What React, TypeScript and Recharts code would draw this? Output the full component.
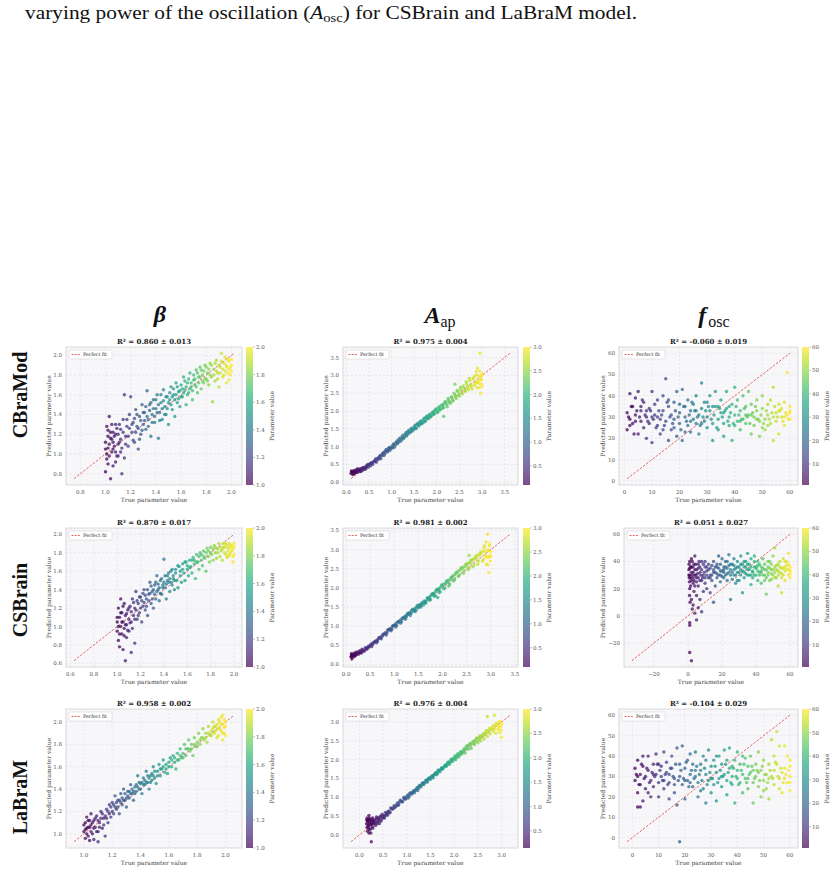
import React from 'react';
import { ScatterChart, Scatter, XAxis, YAxis, CartesianGrid, ReferenceLine } from 'recharts';

type Pt = [number, number];

// rows / columns
const rowNames = ['CBraMod', 'CSBrain', 'LaBraM'];
const r2Text = [
  ['0.860 ± 0.013', '0.975 ± 0.004', '-0.060 ± 0.019'],
  ['0.870 ± 0.017', '0.981 ± 0.002', '0.051 ± 0.027'],
  ['0.958 ± 0.002', '0.976 ± 0.004', '-0.104 ± 0.029'],
];

// tick labels
const betaTicks1 = [0.8, 1.0, 1.2, 1.4, 1.6, 1.8, 2.0];
const betaTicks2 = [0.6, 0.8, 1.0, 1.2, 1.4, 1.6, 1.8, 2.0];
const betaTicks3 = [1.0, 1.2, 1.4, 1.6, 1.8, 2.0];
const apTicks1 = [0, 0.5, 1.0, 1.5, 2.0, 2.5, 3.0, 3.5];
const apTicks3 = [0, 0.5, 1.0, 1.5, 2.0, 2.5, 3.0];
const foscTicks1 = [0, 10, 20, 30, 40, 50, 60];
const foscTicks2 = [-20, 0, 20, 40, 60];
const betaCbarTicks = [1.0, 1.2, 1.4, 1.6, 1.8, 2.0];
const apCbarTicks = [0.5, 1.0, 1.5, 2.0, 2.5, 3.0];
const foscCbarTicks = [10, 20, 30, 40, 50, 60];

// [true, predicted]
const cbramodBeta: Pt[] = [
  [1.00,1.05],[1.01,0.95],[1.02,1.18],[1.03,1.10],[1.01,1.28],[1.04,0.75],[1.00,0.82],[1.05,1.02],[1.06,1.22],[1.02,0.90],
  [1.07,1.08],[1.08,1.30],[1.03,1.38],[1.09,0.98],[1.05,1.15],[1.10,1.20],[1.08,0.92],[1.06,1.05],
  [1.11,1.12],[1.12,1.25],[1.13,0.80],[1.14,1.35],[1.15,1.60],[1.12,1.02],[1.16,1.18],[1.17,1.28],[1.18,1.08],[1.19,1.40],[1.15,0.96],[1.20,1.58],
  [1.21,1.22],[1.22,1.32],[1.23,1.12],[1.24,1.45],[1.25,1.28],[1.26,1.05],[1.27,1.38],[1.28,1.20],[1.29,1.50],[1.30,1.30],
  [1.31,1.42],[1.32,1.25],[1.33,1.64],[1.34,1.35],[1.35,1.50],[1.36,1.18],[1.37,1.40],[1.38,1.55],[1.39,1.32],[1.40,1.46],
  [1.41,1.60],[1.42,1.16],[1.43,1.42],[1.44,1.52],[1.45,1.35],[1.46,1.65],[1.47,1.48],[1.48,1.40],[1.49,1.58],[1.50,1.30],
  [1.51,1.55],[1.52,1.68],[1.53,1.45],[1.54,1.60],[1.55,1.38],[1.56,1.72],[1.57,1.52],[1.58,1.63],[1.59,1.48],[1.60,1.70],
  [1.61,1.58],[1.62,1.78],[1.63,1.65],[1.64,1.50],[1.65,1.72],[1.66,1.62],[1.67,1.82],[1.68,1.68],[1.69,1.55],[1.70,1.75],
  [1.71,1.70],[1.72,1.85],[1.73,1.62],[1.74,1.78],[1.75,1.88],[1.76,1.66],[1.77,1.80],[1.78,1.72],[1.79,1.90],[1.80,1.76],
  [1.81,1.82],[1.82,1.70],[1.83,1.92],[1.84,1.78],[1.85,1.53],[1.86,1.86],[1.87,1.74],[1.88,1.95],[1.89,1.82],[1.90,1.68],
  [1.91,1.88],[1.92,2.02],[1.93,1.78],[1.94,1.92],[1.95,1.84],[1.96,1.72],[1.97,1.96],[1.98,1.86],[1.99,1.80],[2.00,1.90],[1.98,1.75],[1.96,1.88],
  [1.00,1.12],[1.01,1.00],[1.02,1.24],[1.03,0.98],[1.04,1.16],[1.05,1.30],[1.06,0.88],[1.07,1.18],[1.08,1.02],[1.09,1.26],
  [1.10,1.10],[1.02,1.06],[1.04,1.22],[1.06,1.12],[1.08,1.20],[1.10,0.98],
  [1.11,1.30],[1.12,1.15],[1.13,1.06],[1.14,1.22],[1.16,1.10],[1.17,1.35],[1.18,1.18],[1.19,1.26],[1.21,1.30],[1.22,1.14],
  [1.23,1.36],[1.24,1.22],[1.25,1.40],[1.26,1.26],[1.27,1.15],[1.28,1.34],[1.29,1.24],[1.30,1.42],
  [1.31,1.34],[1.32,1.48],[1.33,1.38],[1.34,1.28],[1.35,1.44],[1.36,1.52],[1.37,1.32],[1.38,1.46],[1.39,1.38],[1.40,1.55],
  [1.41,1.42],[1.42,1.50],[1.43,1.34],[1.44,1.60],[1.45,1.46],[1.46,1.54],[1.47,1.40],[1.48,1.58],[1.49,1.46],[1.50,1.52],
  [1.51,1.62],[1.52,1.50],[1.53,1.58],[1.54,1.66],[1.55,1.55],[1.56,1.60],[1.57,1.68],[1.58,1.56],[1.59,1.64],[1.60,1.58],
  [1.61,1.66],[1.62,1.62],[1.63,1.74],[1.64,1.68],[1.65,1.60],[1.66,1.76],[1.67,1.66],[1.68,1.72],[1.69,1.64],[1.70,1.80],
  [1.71,1.76],[1.72,1.68],[1.73,1.82],[1.74,1.72],[1.75,1.78],[1.76,1.85],[1.77,1.74],[1.78,1.84],[1.79,1.76],[1.80,1.88],
  [1.81,1.74],[1.82,1.86],[1.83,1.80],[1.84,1.90],[1.86,1.80],[1.87,1.92],[1.88,1.84],[1.89,1.76],[1.90,1.90],[1.91,1.82],
  [1.92,1.94],[1.93,1.86],[1.94,1.80],[1.95,1.98],[1.96,1.90],[1.97,1.82],[1.98,1.94],[1.99,1.88],[2.00,1.84],[2.00,1.96],
];

const cbramodAp: Pt[] = [
  [0.10,0.25],[0.12,0.30],[0.14,0.22],[0.15,0.28],[0.17,0.33],[0.19,0.26],[0.20,0.30],[0.22,0.35],[0.24,0.28],[0.25,0.38],
  [0.27,0.31],[0.30,0.36],[0.32,0.30],[0.35,0.40],[0.38,0.35],[0.40,0.42],[0.43,0.38],[0.45,0.47],[0.48,0.42],[0.50,0.50],
  [0.53,0.46],[0.55,0.55],[0.58,0.50],[0.60,0.58],[0.63,0.62],[0.66,0.56],[0.70,0.68],[0.73,0.72],[0.76,0.66],[0.80,0.80],
  [0.83,0.75],[0.86,0.88],[0.90,0.85],[0.93,0.95],[0.96,0.90],[1.00,1.00],[1.03,1.05],[1.06,0.98],[1.10,1.12],[1.13,1.08],
  [1.16,1.20],[1.20,1.15],[1.23,1.28],[1.26,1.22],[1.30,1.35],[1.33,1.30],[1.36,1.42],[1.40,1.38],[1.43,1.50],[1.46,1.44],
  [1.50,1.55],[1.53,1.50],[1.56,1.62],[1.60,1.58],[1.63,1.70],[1.66,1.64],[1.70,1.75],[1.73,1.70],[1.76,1.82],[1.80,1.78],
  [1.83,1.88],[1.86,1.84],[1.90,1.95],[1.93,1.90],[1.96,2.02],[2.00,1.98],[2.03,2.08],[2.06,2.02],[2.10,2.15],[2.13,2.08],
  [2.16,2.20],[2.15,1.85],[2.20,2.25],[2.23,2.12],[2.26,2.30],[2.30,2.22],[2.33,2.38],[2.36,2.30],[2.40,2.45],[2.43,2.35],
  [2.46,2.55],[2.50,2.42],[2.53,2.60],[2.56,2.48],[2.60,2.65],[2.63,2.55],[2.66,2.75],[2.70,2.60],[2.73,2.85],[2.76,2.68],
  [2.80,2.90],[2.83,2.72],[2.86,3.00],[2.88,2.80],[2.90,3.20],[2.92,2.85],[2.94,2.65],[2.95,3.62],[2.96,2.95],[2.98,2.75],
  [3.00,3.05],[2.97,2.50],[2.99,2.88],[2.40,2.75],
  [0.11,0.32],[0.13,0.27],[0.16,0.24],[0.18,0.31],[0.21,0.27],[0.23,0.33],[0.26,0.34],[0.29,0.30],[0.31,0.38],[0.34,0.33],
  [0.37,0.41],[0.41,0.37],[0.44,0.44],[0.47,0.50],[0.52,0.52],[0.57,0.54],[0.62,0.58],[0.65,0.66],[0.68,0.62],[0.72,0.66],
  [0.75,0.76],[0.78,0.74],[0.82,0.84],[0.85,0.80],[0.88,0.92],[0.92,0.88],[0.95,0.98],[0.98,0.95],[1.02,0.96],[1.05,1.08],
  [1.08,1.04],[1.12,1.16],[1.15,1.12],[1.18,1.24],[1.22,1.20],[1.25,1.32],[1.28,1.26],[1.32,1.40],[1.35,1.34],[1.38,1.46],
  [1.42,1.42],[1.45,1.52],[1.48,1.48],[1.52,1.60],[1.55,1.52],[1.58,1.66],[1.62,1.62],[1.65,1.72],[1.68,1.66],[1.72,1.80],
  [1.75,1.72],[1.78,1.86],[1.82,1.80],[1.85,1.92],[1.88,1.86],[1.92,1.98],[1.95,1.92],[1.98,2.06],[2.02,1.96],[2.05,2.12],
  [2.08,2.05],[2.12,2.18],[2.15,2.10],[2.18,2.26],[2.22,2.18],[2.25,2.35],[2.28,2.24],[2.32,2.40],[2.35,2.28],[2.38,2.50],
  [2.42,2.40],[2.45,2.58],[2.48,2.45],[2.52,2.66],[2.55,2.52],[2.58,2.70],[2.62,2.58],[2.65,2.82],[2.68,2.66],[2.72,2.92],
  [2.75,2.74],[2.78,2.62],[2.82,2.95],[2.85,2.78],[2.87,3.10],[2.89,2.66],[2.91,3.00],[2.93,2.78],[2.95,3.12],[2.97,2.88],
  [2.99,3.00],[3.00,2.70],
];

const cbramodFosc: Pt[] = [
  [1,32],[1,24],[2,41],[2,29],[3,35],[3,27],[4,31],[4,39],[5,42],[5,22],[6,33],[6,28],[7,25],[7,37],[8,30],[8,20],
  [9,34],[9,27],[10,42],[10,18],[11,31],[11,36],[12,26],[12,38],[13,29],[13,22],[14,33],[14,40],[15,48],[15,28],
  [16,19],[16,35],[17,31],[17,24],[18,37],[18,29],[19,42],[19,21],[20,32],[20,27],[21,43],[21,19],[22,30],[22,35],
  [23,26],[23,38],[24,33],[24,23],[25,29],[25,36],[26,40],[26,27],[27,31],[27,22],[28,46],[28,34],[29,28],[29,37],
  [30,30],[30,25],[31,33],[31,40],[32,27],[32,19],[33,35],[33,42],[34,29],[34,24],[35,32],[35,38],[36,27],[36,21],
  [37,34],[37,42],[38,30],[38,26],[39,36],[39,19],[40,31],[40,44],[41,28],[41,38],[42,33],[42,24],[43,29],[43,40],
  [44,35],[44,27],[45,31],[45,42],[46,22],[46,36],[47,30],[47,26],[48,38],[48,33],[49,28],[49,21],[50,34],[50,40],
  [51,29],[51,24],[52,36],[52,31],[53,27],[53,38],[54,44],[54,19],[55,32],[55,28],[56,36],[56,22],[57,30],[57,34],
  [58,26],[58,37],[59,51],[59,31],[60,29],[60,35],
  [1.5,30],[2.5,35],[3.5,22],[4.5,33],[5.5,30],[6.5,38],[7.5,31],[8.5,28],[9.5,33],[10.5,29],[11.5,25],[12.5,33],
  [13.5,31],[14.5,26],[15.5,37],[16.5,30],[17.5,27],[18.5,33],[19.5,30],[20.5,24],[21.5,35],[22.5,28],[23.5,31],[24.5,37],
  [25.5,33],[26.5,30],[27.5,26],[28.5,30],[29.5,33],[30.5,35],[31.5,29],[32.5,31],[33.5,25],[34.5,34],[35.5,30],[36.5,33],
  [37.5,28],[38.5,32],[39.5,27],[40.5,35],[41.5,31],[42.5,29],[43.5,34],[44.5,30],[45.5,27],[46.5,32],[47.5,35],[48.5,29],
  [49.5,31],[50.5,27],[51.5,33],[52.5,29],[53.5,32],[54.5,35],[55.5,30],[56.5,33],[57.5,28],[58.5,32],[59.5,29],[60,32],
  [2,26],[4,28],[6,35],[8,33],[10,30],[12,30],[14,24],[16,38],[18,25],[20,36],[22,23],[24,28],[26,33],[28,27],[30,37],
  [32,35],[34,35],[36,32],[38,35],[40,26],[42,28],[44,31],[46,31],[48,29],[50,25],[52,26],[54,30],[56,33],[58,30],[60,33],
];

const csbrainBeta: Pt[] = [
  [1.00,0.95],[1.00,1.05],[1.01,0.85],[1.01,1.20],[1.02,1.10],[1.02,0.78],[1.03,1.00],[1.03,1.30],[1.04,0.92],[1.04,1.15],
  [1.05,0.75],[1.05,1.05],[1.06,1.25],[1.06,0.98],[1.07,0.63],[1.07,1.12],[1.08,1.02],[1.08,0.88],[1.09,1.18],[1.10,1.08],
  [1.10,0.95],[1.11,1.22],[1.12,0.72],[1.12,1.05],[1.13,1.30],[1.14,1.12],[1.15,0.82],[1.15,1.20],[1.16,1.38],[1.17,1.08],
  [1.18,1.25],[1.19,1.15],[1.20,1.32],[1.21,1.05],[1.22,1.22],[1.23,1.40],[1.24,1.18],[1.25,1.30],[1.26,1.12],[1.27,1.35],
  [1.28,1.48],[1.29,1.25],[1.30,1.38],[1.31,1.20],[1.32,1.45],[1.33,1.30],[1.34,1.55],[1.35,1.40],[1.36,1.28],[1.37,1.50],
  [1.38,1.35],[1.39,1.45],[1.40,1.73],[1.41,1.42],[1.42,1.30],[1.43,1.55],[1.44,1.48],[1.45,1.38],[1.46,1.60],[1.47,1.45],
  [1.48,1.52],[1.49,1.40],[1.50,1.62],[1.51,1.50],[1.52,1.42],[1.53,1.65],[1.54,1.55],[1.55,1.48],[1.56,1.68],[1.57,1.58],
  [1.58,1.50],[1.59,1.70],[1.60,1.62],[1.61,1.55],[1.62,1.72],[1.63,1.65],[1.64,1.58],[1.65,1.75],[1.66,1.68],[1.67,1.52],
  [1.68,1.78],[1.69,1.70],[1.70,1.62],[1.71,1.80],[1.72,1.72],[1.73,1.66],[1.74,1.82],[1.75,1.74],[1.76,1.60],[1.77,1.85],
  [1.78,1.76],[1.79,1.70],[1.80,1.86],[1.81,1.78],[1.82,1.72],[1.83,1.88],[1.84,1.80],[1.85,1.74],[1.86,1.84],[1.87,1.90],
  [1.88,1.76],[1.89,1.82],[1.90,1.72],[1.91,1.86],[1.92,1.80],[1.93,1.90],[1.94,1.75],[1.95,1.85],[1.96,1.78],[1.97,1.88],
  [1.98,1.82],[1.99,1.70],[2.00,1.86],[2.00,1.78],
  [1.00,1.10],[1.01,1.00],[1.02,0.92],[1.03,1.15],[1.04,1.05],[1.05,1.22],[1.06,0.90],[1.07,1.02],[1.08,1.14],[1.09,0.96],
  [1.10,1.20],[1.11,1.04],[1.12,1.16],[1.13,0.98],[1.14,1.26],[1.15,1.08],[1.16,1.18],[1.17,1.28],[1.18,1.12],[1.19,1.32],
  [1.20,1.20],[1.21,1.28],[1.22,1.36],[1.23,1.26],[1.24,1.34],[1.25,1.22],[1.26,1.40],[1.27,1.28],[1.28,1.36],[1.29,1.44],
  [1.30,1.30],[1.31,1.40],[1.32,1.35],[1.33,1.48],[1.34,1.38],[1.35,1.46],[1.36,1.42],[1.37,1.36],[1.38,1.52],[1.39,1.42],
  [1.40,1.48],[1.41,1.55],[1.42,1.46],[1.43,1.50],[1.44,1.58],[1.45,1.52],[1.46,1.48],[1.47,1.62],[1.48,1.55],[1.49,1.50],
  [1.50,1.58],[1.52,1.66],[1.54,1.60],[1.56,1.62],[1.58,1.70],[1.60,1.66],[1.62,1.64],[1.64,1.72],[1.66,1.72],[1.68,1.70],
  [1.70,1.76],[1.72,1.78],[1.74,1.76],[1.76,1.80],[1.78,1.82],[1.80,1.80],[1.82,1.84],[1.84,1.86],[1.86,1.80],[1.88,1.86],
  [1.90,1.84],[1.91,1.90],[1.92,1.86],[1.93,1.78],[1.94,1.88],[1.95,1.82],[1.96,1.90],[1.97,1.80],[1.98,1.88],[1.99,1.84],
  [2.00,1.90],[1.95,1.76],[1.97,1.86],[1.99,1.76],
];

const csbrainAp: Pt[] = [
  [0.10,0.20],[0.11,0.28],[0.12,0.15],[0.13,0.25],[0.15,0.22],[0.17,0.30],[0.19,0.24],[0.20,0.28],[0.22,0.33],[0.25,0.30],
  [0.28,0.36],[0.30,0.32],[0.33,0.40],[0.36,0.35],[0.40,0.44],[0.43,0.40],[0.46,0.48],[0.50,0.50],[0.53,0.47],[0.56,0.56],
  [0.60,0.60],[0.63,0.57],[0.66,0.66],[0.70,0.70],[0.73,0.67],[0.76,0.78],[0.80,0.80],[0.83,0.77],[0.86,0.90],[0.90,0.92],
  [0.93,0.88],[0.96,1.00],[1.00,1.02],[1.03,0.98],[1.06,1.10],[1.10,1.12],[1.13,1.08],[1.16,1.20],[1.20,1.22],[1.23,1.18],
  [1.26,1.30],[1.30,1.32],[1.33,1.28],[1.36,1.42],[1.40,1.40],[1.43,1.38],[1.46,1.50],[1.50,1.48],[1.53,1.52],[1.56,1.58],
  [1.60,1.55],[1.63,1.62],[1.66,1.66],[1.70,1.72],[1.73,1.68],[1.76,1.80],[1.80,1.85],[1.83,1.78],[1.86,1.92],[1.90,1.95],
  [1.93,1.88],[1.96,2.02],[2.00,2.05],[2.03,1.98],[2.06,2.12],[2.10,2.15],[2.13,2.05],[2.16,2.22],[2.20,2.28],[2.23,2.18],
  [2.26,2.35],[2.30,2.40],[2.33,2.30],[2.36,2.46],[2.40,2.50],[2.43,2.38],[2.46,2.55],[2.50,2.58],[2.53,2.48],[2.56,2.65],
  [2.60,2.68],[2.63,2.55],[2.66,2.75],[2.70,2.78],[2.73,2.62],[2.76,2.85],[2.80,2.90],[2.83,2.70],[2.86,3.05],[2.88,2.95],
  [2.90,3.20],[2.92,2.80],[2.93,3.40],[2.94,2.60],[2.95,2.98],[2.96,2.40],[2.97,3.10],[2.98,2.85],[2.99,2.70],[3.00,2.95],
  [1.90,1.75],[2.55,2.85],
  [0.11,0.22],[0.12,0.26],[0.14,0.20],[0.16,0.26],[0.18,0.22],[0.21,0.26],[0.23,0.30],[0.26,0.27],[0.29,0.33],[0.32,0.30],
  [0.35,0.38],[0.38,0.35],[0.42,0.42],[0.45,0.44],[0.48,0.46],[0.52,0.54],[0.55,0.52],[0.58,0.58],[0.62,0.62],[0.65,0.60],
  [0.68,0.70],[0.72,0.72],[0.75,0.74],[0.78,0.80],[0.82,0.84],[0.85,0.82],[0.88,0.90],[0.92,0.94],[0.95,0.92],[0.98,1.02],
  [1.02,1.06],[1.05,1.02],[1.08,1.12],[1.12,1.16],[1.15,1.12],[1.18,1.22],[1.22,1.26],[1.25,1.24],[1.28,1.34],[1.32,1.36],
  [1.35,1.34],[1.38,1.44],[1.42,1.46],[1.45,1.42],[1.48,1.54],[1.52,1.56],[1.55,1.50],[1.58,1.62],[1.62,1.66],[1.65,1.60],
  [1.68,1.74],[1.72,1.76],[1.75,1.70],[1.78,1.84],[1.82,1.86],[1.85,1.80],[1.88,1.96],[1.92,1.98],[1.95,1.90],[1.98,2.08],
  [2.02,2.10],[2.05,2.00],[2.08,2.18],[2.12,2.20],[2.15,2.10],[2.18,2.28],[2.22,2.32],[2.25,2.22],[2.28,2.40],[2.32,2.44],
  [2.35,2.34],[2.38,2.52],[2.42,2.54],[2.45,2.44],[2.48,2.62],[2.52,2.64],[2.55,2.52],[2.58,2.72],[2.62,2.75],[2.65,2.60],
  [2.68,2.82],[2.72,2.86],[2.75,2.70],[2.78,2.92],[2.82,2.96],[2.85,2.75],[2.87,3.10],[2.89,2.85],[2.91,2.62],[2.94,3.00],
  [2.96,2.80],[2.98,3.15],[3.00,2.82],
];

const csbrainFosc: Pt[] = [
  [0.5,30],[0.6,38],[0.8,25],[0.9,15],[1,-5],[1,-7],[1,-27],[1,35],[1,20],[1.2,10],[1.5,28],[2,-33],[2,42],[2,12],[2,32],
  [2.5,5],[3,24],[3,36],[3,8],[3.5,18],[4,44],[4,30],[4,2],[5,-3],[5,28],[5,15],[6,38],[6,22],[6,6],[7,32],[7,12],
  [8,26],[8,3],[8,40],[9,30],[9,18],[10,36],[10,24],[11,20],[11,33],[12,38],[12,28],[13,17],[13,35],[14,30],[14,26],
  [15,40],[15,10],[16,32],[16,22],[17,36],[17,28],[18,44],[18,30],[19,25],[19,38],[20,33],[20,42],[21,28],[21,36],
  [22,30],[22,40],[23,26],[23,35],[24,32],[24,45],[25,12],[25,30],[26,38],[26,27],[27,34],[27,42],[28,30],[28,24],
  [29,36],[29,40],[30,32],[30,26],[31,38],[31,44],[32,17],[32,33],[33,36],[33,28],[34,40],[34,31],[35,34],[35,46],
  [36,30],[36,38],[37,23],[37,42],[38,33],[38,28],[39,36],[39,44],[40,30],[40,35],[41,40],[41,26],[42,32],[42,38],
  [43,36],[43,24],[44,42],[44,30],[45,34],[45,38],[46,28],[46,16],[47,36],[47,32],[48,40],[48,26],[49,34],[49,38],
  [50,30],[50,44],[51,36],[51,50],[52,28],[52,34],[53,38],[53,22],[54,32],[54,40],[55,35],[55,17],[56,30],[56,42],
  [57,36],[57,26],[58,34],[58,40],[59,30],[59,46],[60,36],[60,28],[60,33],
  [0.5,34],[0.7,28],[1,30],[1,40],[1.5,36],[1.5,22],[2,26],[2,36],[2.5,30],[2.5,40],[3,32],[3,28],[3.5,38],[3.5,26],
  [4,34],[4,22],[4.5,30],[4.5,38],[5,34],[5,25],[5.5,31],[6,28],[6,35],[6.5,40],[7,26],[7,36],[7.5,30],[8,34],
  [8.5,28],[9,38],[9.5,32],[10,28],[10,40],
  [11,30],[12,34],[13,28],[14,37],[15,32],[16,36],[17,31],[18,35],[19,33],[20,29],[21,34],[22,36],[23,31],[24,37],
  [25,34],[26,32],[27,37],[28,35],[29,32],[30,36],[31,34],[32,38],[33,32],[34,36],[35,30],[36,34],[37,36],[38,32],
  [39,30],[40,36],[41,33],[42,30],[43,32],[44,35],[45,30],[46,34],[47,30],[48,35],[49,31],[50,34],[51,32],[52,37],
  [53,33],[54,36],[55,31],[56,35],[57,33],[58,37],[59,34],[60,31],[59,38],[57,40],[55,28],[53,30],[51,28],[49,27],
  [47,40],[45,26],[43,33],[41,37],[39,40],[37,30],[35,38],[33,40],[31,30],[29,26],[27,30],[25,38],[23,40],[21,32],
  [19,30],[17,38],[15,34],[13,30],[11,36],
];

const labramBeta: Pt[] = [
  [1.00,1.02],[1.01,1.10],[1.01,0.96],[1.02,1.15],[1.02,1.05],[1.03,0.98],[1.03,1.12],[1.04,1.06],[1.04,0.94],[1.05,1.08],
  [1.05,1.18],[1.06,1.00],[1.07,1.12],[1.07,0.95],[1.08,1.06],[1.09,1.16],[1.10,1.02],[1.10,0.93],[1.11,1.10],[1.12,1.20],
  [1.13,1.05],[1.14,1.14],[1.15,0.98],[1.16,1.22],[1.17,1.10],[1.18,1.26],[1.19,1.15],[1.20,1.28],[1.21,1.18],[1.22,1.34],
  [1.23,1.22],[1.24,1.30],[1.25,1.18],[1.26,1.36],[1.27,1.26],[1.28,1.40],[1.29,1.30],[1.30,1.24],[1.31,1.38],[1.32,1.32],
  [1.33,1.44],[1.34,1.36],[1.35,1.30],[1.36,1.42],[1.37,1.38],[1.38,1.52],[1.39,1.40],[1.40,1.45],[1.41,1.36],[1.42,1.50],
  [1.43,1.44],[1.44,1.56],[1.45,1.46],[1.46,1.40],[1.47,1.52],[1.48,1.48],[1.49,1.60],[1.50,1.50],[1.51,1.45],[1.52,1.56],
  [1.53,1.62],[1.54,1.52],[1.55,1.58],[1.56,1.66],[1.57,1.55],[1.58,1.62],[1.59,1.54],[1.60,1.64],[1.61,1.68],[1.62,1.60],
  [1.63,1.70],[1.64,1.64],[1.65,1.58],[1.66,1.72],[1.67,1.66],[1.68,1.76],[1.69,1.68],[1.70,1.72],[1.71,1.80],[1.72,1.70],
  [1.73,1.76],[1.74,1.84],[1.75,1.74],[1.76,1.80],[1.77,1.70],[1.78,1.86],[1.79,1.78],[1.80,1.82],[1.81,1.90],[1.82,1.80],
  [1.83,1.86],[1.84,1.94],[1.85,1.84],[1.86,1.90],[1.87,1.82],[1.88,1.96],[1.89,1.88],[1.90,1.92],[1.91,2.00],[1.92,1.90],
  [1.93,1.96],[1.94,1.86],[1.95,2.02],[1.96,1.94],[1.97,1.98],[1.98,2.06],[1.98,1.90],[1.99,1.95],[2.00,2.00],[2.00,1.88],
  [1.98,1.84],
  [1.00,1.08],[1.01,1.04],[1.02,1.00],[1.03,1.06],[1.04,1.12],[1.05,1.02],[1.06,1.10],[1.07,1.05],[1.08,1.14],[1.09,1.02],
  [1.10,1.12],[1.11,1.06],[1.12,1.14],[1.13,1.18],[1.14,1.08],[1.15,1.16],[1.16,1.14],[1.17,1.20],[1.18,1.18],[1.19,1.24],
  [1.20,1.20],[1.21,1.26],[1.22,1.24],[1.23,1.28],[1.24,1.24],[1.25,1.30],[1.26,1.28],[1.27,1.32],[1.28,1.30],[1.29,1.36],
  [1.30,1.32],[1.31,1.34],[1.32,1.38],[1.33,1.36],[1.34,1.40],[1.35,1.38],[1.36,1.36],[1.37,1.44],[1.38,1.42],[1.39,1.46],
  [1.40,1.40],[1.41,1.46],[1.42,1.44],[1.43,1.48],[1.44,1.46],[1.45,1.52],[1.46,1.50],[1.47,1.46],[1.48,1.54],[1.49,1.52],
  [1.50,1.56],[1.52,1.52],[1.54,1.58],[1.56,1.60],[1.58,1.58],[1.60,1.60],[1.62,1.66],[1.64,1.68],[1.66,1.66],[1.68,1.70],
  [1.70,1.68],[1.72,1.76],[1.74,1.76],[1.76,1.76],[1.78,1.80],[1.80,1.78],[1.82,1.84],[1.84,1.86],[1.86,1.86],[1.88,1.90],
  [1.90,1.88],[1.91,1.94],[1.92,1.96],[1.93,1.92],[1.94,1.98],[1.95,1.94],[1.96,2.00],[1.97,1.92],[1.98,1.98],[1.99,2.02],
  [2.00,1.96],[1.99,1.90],[1.97,2.04],[1.95,1.88],
];

const labramAp: Pt[] = [
  [0.15,0.30],[0.16,0.45],[0.17,0.10],[0.18,0.38],[0.19,0.22],[0.20,0.52],[0.20,0.05],[0.21,0.32],[0.22,0.40],[0.23,0.15],
  [0.24,0.28],[0.25,-0.18],[0.26,0.36],[0.27,0.22],[0.28,0.45],[0.30,0.30],[0.32,0.40],[0.34,0.25],[0.36,0.48],[0.38,0.35],
  [0.40,0.42],[0.42,0.30],[0.44,0.50],[0.46,0.40],[0.48,0.55],[0.50,0.48],[0.53,0.45],[0.55,0.60],[0.58,0.55],[0.60,0.62],
  [0.63,0.58],[0.66,0.72],[0.70,0.68],[0.73,0.78],[0.76,0.75],[0.80,0.85],[0.83,0.80],[0.86,0.92],[0.90,0.88],[0.93,0.98],
  [0.96,0.95],[1.00,1.02],[1.03,0.98],[1.06,1.10],[1.10,1.08],[1.13,1.15],[1.16,1.12],[1.20,1.22],[1.23,1.18],[1.26,1.30],
  [1.30,1.28],[1.33,1.38],[1.36,1.34],[1.40,1.45],[1.43,1.40],[1.46,1.50],[1.50,1.48],[1.53,1.56],[1.56,1.52],[1.60,1.64],
  [1.63,1.60],[1.66,1.72],[1.70,1.68],[1.73,1.78],[1.76,1.75],[1.80,1.85],[1.83,1.82],[1.86,1.92],[1.90,1.88],[1.93,2.00],
  [1.96,1.95],[2.00,2.05],[2.03,2.00],[2.06,2.12],[2.10,2.08],[2.13,2.20],[2.16,2.15],[2.20,2.25],[2.23,2.18],[2.26,2.35],
  [2.30,2.28],[2.33,2.42],[2.36,2.30],[2.40,2.48],[2.43,2.40],[2.46,2.55],[2.50,2.45],[2.53,2.60],[2.56,2.50],[2.60,2.65],
  [2.63,2.55],[2.66,2.72],[2.70,3.15],[2.70,2.62],[2.73,2.78],[2.76,2.68],[2.80,2.85],[2.83,2.75],[2.85,3.18],[2.86,2.90],
  [2.88,2.70],[2.90,2.95],[2.92,2.80],[2.94,3.00],[2.96,2.72],[2.98,2.88],[3.00,2.95],[3.00,2.60],
  [0.15,0.40],[0.16,0.20],[0.17,0.35],[0.18,0.25],[0.19,0.42],[0.20,0.15],[0.21,0.45],[0.22,0.28],[0.23,0.38],[0.24,0.05],
  [0.25,0.32],[0.26,0.42],[0.27,0.30],[0.28,0.18],[0.29,0.38],[0.31,0.35],[0.33,0.32],[0.35,0.42],[0.37,0.30],[0.39,0.45],
  [0.41,0.38],[0.43,0.46],[0.45,0.36],[0.47,0.50],[0.49,0.44],[0.52,0.52],[0.54,0.50],[0.57,0.58],[0.59,0.52],[0.62,0.64],
  [0.65,0.60],[0.68,0.70],[0.71,0.72],[0.74,0.72],[0.78,0.80],[0.81,0.78],[0.84,0.86],[0.88,0.90],[0.91,0.88],[0.95,1.00],
  [0.98,0.96],[1.02,1.06],[1.05,1.02],[1.08,1.12],[1.12,1.12],[1.15,1.18],[1.18,1.18],[1.22,1.26],[1.25,1.24],[1.28,1.32],
  [1.32,1.34],[1.35,1.38],[1.38,1.40],[1.42,1.46],[1.45,1.46],[1.48,1.52],[1.52,1.54],[1.55,1.58],[1.58,1.60],[1.62,1.66],
  [1.65,1.64],[1.68,1.72],[1.72,1.74],[1.75,1.78],[1.78,1.80],[1.82,1.86],[1.85,1.86],[1.88,1.94],[1.92,1.94],[1.95,2.02],
  [1.98,2.00],[2.02,2.10],[2.05,2.06],[2.08,2.16],[2.12,2.14],[2.15,2.22],[2.18,2.20],[2.22,2.30],[2.25,2.28],[2.28,2.38],
  [2.32,2.36],[2.35,2.44],[2.38,2.42],[2.42,2.50],[2.45,2.48],[2.48,2.58],[2.52,2.54],[2.55,2.64],[2.58,2.60],[2.62,2.70],
  [2.65,2.66],[2.68,2.78],[2.72,2.72],[2.75,2.84],[2.78,2.80],[2.82,2.90],[2.85,2.82],[2.88,2.96],[2.92,2.90],[2.95,2.85],
  [2.97,3.02],[2.99,2.78],
];

const labramFosc: Pt[] = [
  [1,34],[1,28],[2,38],[2,15],[2,22],[3,31],[3,26],[3,15],[4,35],[4,18],[5,30],[5,24],[6,40],[6,33],[7,28],[7,20],
  [8,36],[8,25],[9,41],[9,31],[10,27],[10,20],[11,35],[11,30],[12,42],[12,24],[13,32],[13,37],[14,27],[14,19],
  [15,34],[15,40],[16,29],[16,22],[17,44],[17,16],[18,-2],[18,30],[19,45],[19,26],[20,34],[20,19],[21,38],[21,28],
  [22,31],[22,41],[23,25],[23,36],[24,42],[24,30],[25,27],[25,20],[26,36],[26,33],[27,40],[27,24],[28,31],[28,17],
  [29,43],[29,28],[30,35],[30,22],[31,38],[31,26],[32,32],[32,18],[33,40],[33,29],[34,25],[34,36],[35,43],[35,31],
  [36,28],[36,21],[37,44],[37,34],[38,30],[38,26],[39,38],[39,17],[40,33],[40,42],[41,27],[41,36],[42,31],[42,22],
  [43,39],[43,29],[44,35],[44,24],[45,32],[45,40],[46,27],[46,17],[47,36],[47,30],[48,42],[48,25],[49,33],[49,20],
  [50,38],[50,28],[51,31],[51,24],[52,36],[52,19],[53,48],[53,30],[54,33],[54,26],[55,52],[55,36],[56,45],[56,29],
  [57,32],[57,22],[58,45],[58,34],[59,40],[59,27],[60,35],[60,23],[60,30],
  [1.5,31],[2.5,26],[3.5,36],[4.5,29],[5.5,34],[6.5,27],[7.5,32],[8.5,30],[9.5,36],[10.5,33],[11.5,28],[12.5,31],
  [13.5,26],[14.5,34],[15.5,30],[16.5,36],[17.5,28],[18.5,33],[19.5,29],[20.5,37],[21.5,25],[22.5,33],[23.5,29],[24.5,35],
  [25.5,31],[26.5,28],[27.5,34],[28.5,26],[29.5,32],[30.5,29],[31.5,35],[32.5,27],[33.5,33],[34.5,30],[35.5,36],[36.5,32],
  [37.5,27],[38.5,34],[39.5,30],[40.5,26],[41.5,33],[42.5,36],[43.5,27],[44.5,31],[45.5,35],[46.5,29],[47.5,33],[48.5,28],
  [49.5,35],[50.5,31],[51.5,27],[52.5,33],[53.5,29],[54.5,37],[55.5,30],[56.5,34],[57.5,27],[58.5,31],[59.5,33],[60,27],
  [2,30],[4,40],[6,22],[8,31],[10,36],[12,28],[14,31],[16,26],[18,36],[20,28],[22,27],[24,33],[26,23],[28,38],[30,29],
  [32,40],[34,30],[36,38],[38,35],[40,29],[42,40],[44,29],[46,33],[48,32],[50,23],[52,29],[54,40],[56,24],[58,29],[60,38],
];

const VIR = ['#440154', '#482475', '#414487', '#355f8d', '#2a788e', '#21918c', '#22a884', '#44bf70', '#7ad151', '#bddf26', '#fde725'];

const hexRgb = (h: string) => [1, 3, 5].map((i) => parseInt(h.slice(i, i + 2), 16));
function viridis(t: number) {
  const s = Math.max(0, Math.min(1, t)) * 10;
  const i = Math.min(9, Math.floor(s));
  const f = s - i;
  const a = hexRgb(VIR[i]);
  const b = hexRgb(VIR[i + 1]);
  const c = a.map((v, k) => Math.round(v + (b[k] - v) * f));
  return `rgb(${c[0]},${c[1]},${c[2]})`;
}

const fmt1 = (v: number) => v.toFixed(1);
const fmtInt = (v: number) => (v < 0 ? '\u2212' + Math.abs(v) : String(v));

// layout
const colL = [66, 343, 619];
const colW = [176, 175, 179];
const rowT = [347, 528, 709];
const rowH = [138, 139, 139];
const cbX = [246, 523, 802];
const yLabX = [48, 325, 602];
const cbLabX = [271, 548, 826];

const SERIF = "'DejaVu Serif', serif";

interface PanelCfg {
  row: number;
  col: number;
  pts: Pt[];
  tx: number[];
  ty: number[];
  fmt: (v: number) => string;
  cbTicks: number[];
  l?: number;
  w?: number;
}

const panels: PanelCfg[] = [
  { row: 0, col: 0, pts: cbramodBeta, tx: betaTicks1, ty: betaTicks1, fmt: fmt1, cbTicks: betaCbarTicks },
  { row: 0, col: 1, pts: cbramodAp, tx: apTicks1, ty: apTicks1, fmt: fmt1, cbTicks: apCbarTicks },
  { row: 0, col: 2, pts: cbramodFosc, tx: foscTicks1, ty: foscTicks1, fmt: fmtInt, cbTicks: foscCbarTicks },
  { row: 1, col: 0, pts: csbrainBeta, tx: betaTicks2, ty: betaTicks2, fmt: fmt1, cbTicks: betaCbarTicks },
  { row: 1, col: 1, pts: csbrainAp, tx: apTicks1, ty: apTicks1, fmt: fmt1, cbTicks: apCbarTicks },
  { row: 1, col: 2, pts: csbrainFosc, tx: foscTicks2, ty: foscTicks2, fmt: fmtInt, cbTicks: foscCbarTicks, l: 624, w: 174 },
  { row: 2, col: 0, pts: labramBeta, tx: betaTicks3, ty: betaTicks3, fmt: fmt1, cbTicks: betaCbarTicks },
  { row: 2, col: 1, pts: labramAp, tx: apTicks3, ty: apTicks3, fmt: fmt1, cbTicks: apCbarTicks },
  { row: 2, col: 2, pts: labramFosc, tx: foscTicks1, ty: foscTicks1, fmt: fmtInt, cbTicks: foscCbarTicks },
];

function geom(p: PanelCfg) {
  const l = p.l ?? colL[p.col];
  const w = p.w ?? colW[p.col];
  const t = rowT[p.row];
  const h = rowH[p.row];
  const all = p.pts.flat();
  const lo = Math.min(...all);
  const hi = Math.max(...all);
  const pad = (hi - lo) * 0.05;
  const xs = p.pts.map((d) => d[0]);
  const cmin = Math.min(...xs);
  const cmax = Math.max(...xs);
  return { l, w, t, h, lo, hi, dom: [lo - pad, hi + pad] as [number, number], cmin, cmax };
}

const tickStyle = { fontSize: 5.5, fill: '#555', fontFamily: SERIF };

function PanelChart({ p }: { p: PanelCfg }) {
  const g = geom(p);
  const data = p.pts.map(([x, y]) => ({ x, y, c: viridis((x - g.cmin) / (g.cmax - g.cmin)) }));
  const dot = (s: any) => <circle cx={s.cx} cy={s.cy} r={1.7} fill={s.payload.c} fillOpacity={0.75} />;
  return (
    <div style={{ position: 'absolute', left: g.l - 50, top: g.t }}>
      <ScatterChart width={g.w + 52} height={g.h + 30} margin={{ top: 0, right: 2, bottom: 0, left: 0 }}>
        <CartesianGrid fill="#f7f7fa" stroke="#dedee4" strokeDasharray="2 2" strokeWidth={0.6} />
        <XAxis
          type="number"
          dataKey="x"
          domain={g.dom}
          allowDataOverflow
          ticks={p.tx}
          interval={0}
          height={30}
          tickLine={false}
          axisLine={false}
          tickSize={3}
          tickMargin={2}
          tick={tickStyle}
          tickFormatter={p.fmt}
        />
        <YAxis
          type="number"
          dataKey="y"
          domain={g.dom}
          allowDataOverflow
          ticks={p.ty}
          interval={0}
          width={50}
          tickLine={false}
          axisLine={false}
          tickSize={2}
          tickMargin={2}
          tick={tickStyle}
          tickFormatter={p.fmt}
        />
        <Scatter data={data} shape={dot} isAnimationActive={false} />
        <ReferenceLine
          segment={[{ x: g.lo, y: g.lo }, { x: g.hi, y: g.hi }]}
          stroke="#e0403a"
          strokeDasharray="2.5 1.5"
          strokeWidth={0.8}
        />
      </ScatterChart>
    </div>
  );
}

function PanelDecor({ p }: { p: PanelCfg }) {
  const g = geom(p);
  const cx = cbX[p.col];
  const cy = (v: number) => g.t + g.h - ((v - g.cmin) / (g.cmax - g.cmin)) * g.h;
  return (
    <g fontFamily={SERIF}>
      <rect x={g.l} y={g.t} width={g.w} height={g.h} fill="none" stroke="#d6d6da" strokeWidth={0.8} />
      <text x={g.l + g.w / 2} y={g.t - 3.5} textAnchor="middle" fontSize={7} fontWeight="bold" fill="#222">
        {`R² = ${r2Text[p.row][p.col]}`}
      </text>
      <text
        transform={`translate(${yLabX[p.col]},${g.t + g.h / 2}) rotate(-90)`}
        textAnchor="middle"
        dominantBaseline="central"
        fontSize={6}
        fill="#444"
      >
        Predicted parameter value
      </text>
      <text x={g.l + g.w / 2} y={g.t + g.h + 17} textAnchor="middle" fontSize={6} fill="#444">
        True parameter value
      </text>
      <rect x={g.l + 3} y={g.t + 3} width={43} height={9} rx={1} fill="#fff" fillOpacity={0.9} stroke="#ccc" strokeWidth={0.5} />
      <line x1={g.l + 5.5} x2={g.l + 14} y1={g.t + 7.5} y2={g.t + 7.5} stroke="#e0403a" strokeWidth={0.8} strokeDasharray="2 1.2" />
      <text x={g.l + 17} y={g.t + 9.2} fontSize={4.8} fill="#333">Perfect fit</text>
      <rect x={cx} y={g.t} width={7} height={g.h} fill="url(#virGrad)" />
      {p.cbTicks.map((v) => (
        <g key={v}>
          <line x1={cx + 7} x2={cx + 9} y1={cy(v)} y2={cy(v)} stroke="#888" strokeWidth={0.5} />
          <text x={cx + 10} y={cy(v) + 2} fontSize={5.5} fill="#555">{p.fmt(v)}</text>
        </g>
      ))}
      <text
        transform={`translate(${cbLabX[p.col]},${g.t + g.h / 2}) rotate(-90)`}
        textAnchor="middle"
        dominantBaseline="central"
        fontSize={6}
        fill="#444"
      >
        Parameter value
      </text>
    </g>
  );
}

const rowLabelY = [395, 600, 797];

export default function App() {
  return (
    <div style={{ position: 'absolute', left: 0, top: 0, width: 835, height: 873, background: '#fff', overflow: 'hidden' }}>
      {panels.map((p, i) => (
        <PanelChart key={i} p={p} />
      ))}
      <svg width={835} height={873} style={{ position: 'absolute', left: 0, top: 0, pointerEvents: 'none' }}>
        <defs>
          <linearGradient id="virGrad" x1="0" y1="1" x2="0" y2="0">
            {VIR.map((c, i) => (
              <stop key={i} offset={`${i * 10}%`} stopColor={c} stopOpacity={0.7} />
            ))}
          </linearGradient>
        </defs>
        <text x={25} y={19} fontFamily="'Liberation Serif', serif" fontSize={19} fill="#111" textLength={612} lengthAdjust="spacingAndGlyphs">
          varying power of the oscillation (<tspan fontStyle="italic">A</tspan>
          <tspan fontSize={13} dy={3}>osc</tspan>
          <tspan dy={-3}>) for CSBrain and LaBraM model.</tspan>
        </text>
        <g fontFamily="'Liberation Serif', serif" fill="#111">
          <text x={160} y={322} textAnchor="middle" fontSize={24} fontStyle="italic" fontWeight="bold">β</text>
          <text x={440} y={323} textAnchor="middle">
            <tspan fontSize={24} fontStyle="italic" fontWeight="bold">A</tspan>
            <tspan fontSize={16} dy={4}>ap</tspan>
          </text>
          <text x={714} y={323} textAnchor="middle">
            <tspan fontSize={24} fontStyle="italic" fontWeight="bold">f</tspan>
            <tspan fontSize={16} dy={4} dx={2}>osc</tspan>
          </text>
          {rowNames.map((n, i) => (
            <text key={n} transform={`translate(27,${rowLabelY[i]}) rotate(-90)`} textAnchor="middle" fontSize={20} fontWeight="bold">
              {n}
            </text>
          ))}
        </g>
        {panels.map((p, i) => (
          <PanelDecor key={i} p={p} />
        ))}
      </svg>
    </div>
  );
}
